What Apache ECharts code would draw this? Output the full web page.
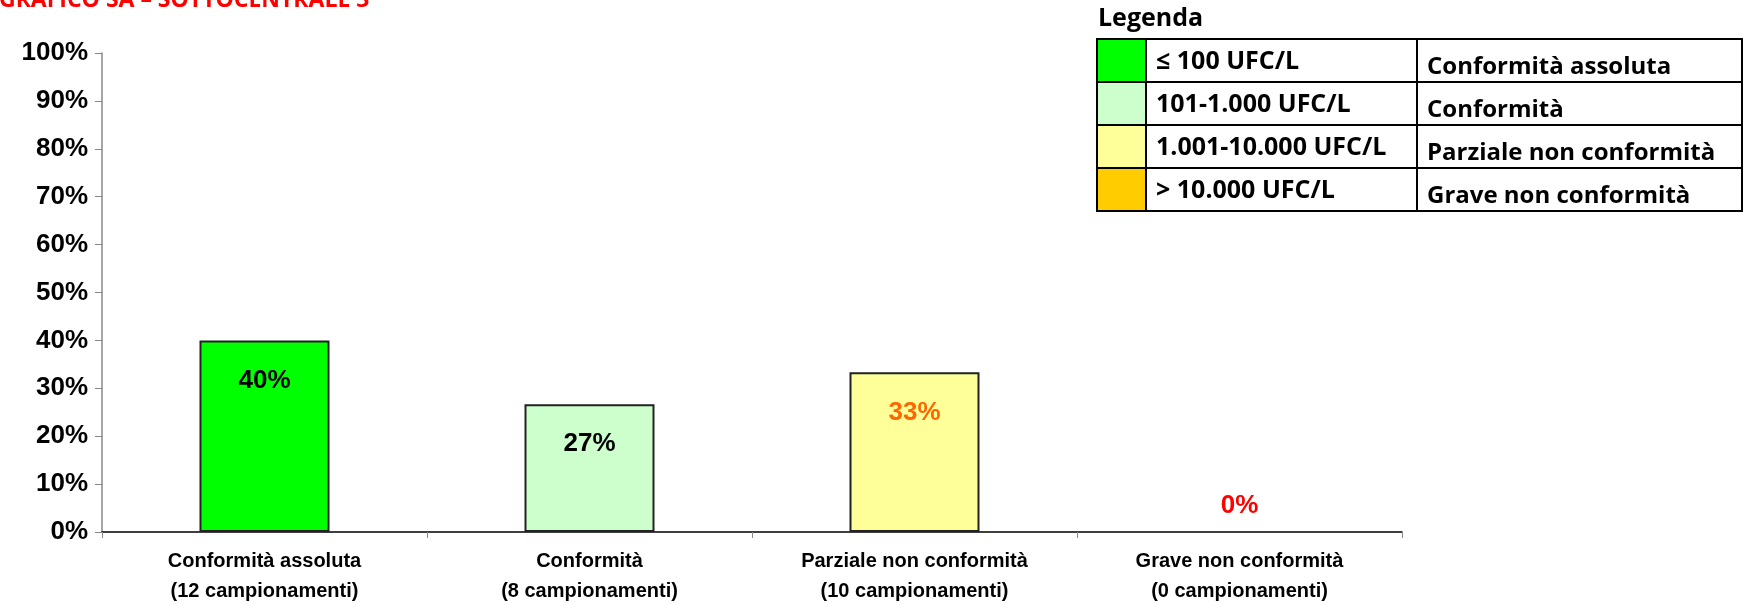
<!DOCTYPE html>
<html>
<head>
<meta charset="utf-8">
<title>Grafico SA - Sottocentrale 3</title>
<script src="https://cdn.jsdelivr.net/npm/echarts@6/dist/echarts.min.js"></script>
<style>
  html, body { margin: 0; padding: 0; background: #fff; }
  #chart { width: 1743px; height: 604px; }
</style>
</head>
<body>
<div id="chart"></div>
<script>
// data
var categories = [
    'Conformità assoluta\n(12 campionamenti)',
    'Conformità\n(8 campionamenti)',
    'Parziale non conformità\n(10 campionamenti)',
    'Grave non conformità\n(0 campionamenti)'
];
var percentages = [40, 26.67, 33.33, 0];
var barColors = ['#00FF00', '#CCFFCC', '#FFFF99', '#FFCC00'];
var labelColors = ['#000000', '#000000', '#FF6600', '#FF0000'];
var yTicks = [0, 100, 10]; // min, max, step

var legendRanges = ['≤ 100 UFC/L', '101-1.000 UFC/L', '1.001-10.000 UFC/L', '> 10.000 UFC/L'];
var legendNames = ['Conformità assoluta', 'Conformità', 'Parziale non conformità', 'Grave non conformità'];

var titleText = 'GRAFICO SA \u2013 SOTTOCENTRALE 3';

let myChart = echarts.init(document.getElementById('chart'));

// legend table drawn as graphic elements
let legendItems = [];
let tLeft = 1097, tTop = 39, rowH = 43, c1 = 1146, c2 = 1417, tRight = 1742;
legendItems.push({
    type: 'text', left: 1098, top: 6,
    style: { text: 'Legenda', font: 'bold 25px "Open Sans"', fill: '#000' }
});
for (let i = 0; i < legendRanges.length; i++) {
    let y = tTop + i * rowH;
    legendItems.push({
        type: 'rect', shape: { x: tLeft, y: y, width: c1 - tLeft, height: rowH },
        style: { fill: barColors[i], stroke: '#000', lineWidth: 2 }
    });
    legendItems.push({
        type: 'rect', shape: { x: c1, y: y, width: c2 - c1, height: rowH },
        style: { fill: '#fff', stroke: '#000', lineWidth: 2 }
    });
    legendItems.push({
        type: 'rect', shape: { x: c2, y: y, width: tRight - c2, height: rowH },
        style: { fill: '#fff', stroke: '#000', lineWidth: 2 }
    });
    legendItems.push({
        type: 'text', x: 1156, y: y + rowH / 2 + 1,
        style: { text: legendRanges[i], font: 'bold 25px "Open Sans"', fill: '#000', verticalAlign: 'middle' }
    });
    legendItems.push({
        type: 'text', x: 1427, y: y + rowH / 2 + 7,
        style: { text: legendNames[i], font: 'bold 24px "Open Sans"', fill: '#000', verticalAlign: 'middle' }
    });
}
legendItems.push({
    type: 'text', x: -1, y: 0,
    style: { text: titleText, font: 'bold 23px "Open Sans"', fill: '#FF0000', verticalAlign: 'middle' }
});

let option = {
    animation: false,
    backgroundColor: '#fff',
    grid: { left: 102, right: 341, top: 53, bottom: 72, outerBoundsMode: 'none' },
    xAxis: {
        type: 'category',
        data: categories,
        axisLine: { lineStyle: { color: '#000', width: 1.5 } },
        axisTick: { show: true, length: 6, lineStyle: { color: '#888' } },
        axisLabel: {
            interval: 0, margin: 14,
            fontFamily: '"Liberation Sans", Arial', fontWeight: 'bold', fontSize: 20,
            lineHeight: 30, color: '#000'
        }
    },
    yAxis: {
        type: 'value',
        min: yTicks[0], max: yTicks[1], interval: yTicks[2],
        axisLine: { show: true, lineStyle: { color: '#888', width: 1.5 } },
        axisTick: { show: true, length: 7, lineStyle: { color: '#888' } },
        splitLine: { show: false },
        axisLabel: {
            formatter: '{value}%', margin: 14,
            fontFamily: '"Liberation Sans", Arial', fontWeight: 'bold', fontSize: 26, color: '#000'
        }
    },
    series: [{
        type: 'bar',
        barWidth: '40%',
        data: percentages.map(function (v, i) {
            let item = {
                value: v,
                itemStyle: { color: barColors[i], borderColor: '#222', borderWidth: 2 },
                label: { color: labelColors[i] }
            };
            if (v === 0) {
                item.itemStyle.borderWidth = 0;
                item.label.position = 'top';
                item.label.distance = 13;
            }
            return item;
        }),
        label: {
            show: true, position: 'insideTop', distance: 27,
            fontFamily: '"Liberation Sans", Arial', fontWeight: 'bold', fontSize: 26,
            formatter: function (p) { return Math.round(p.value) + '%'; }
        }
    }],
    graphic: legendItems
};
myChart.setOption(option);
</script>
</body>
</html>
